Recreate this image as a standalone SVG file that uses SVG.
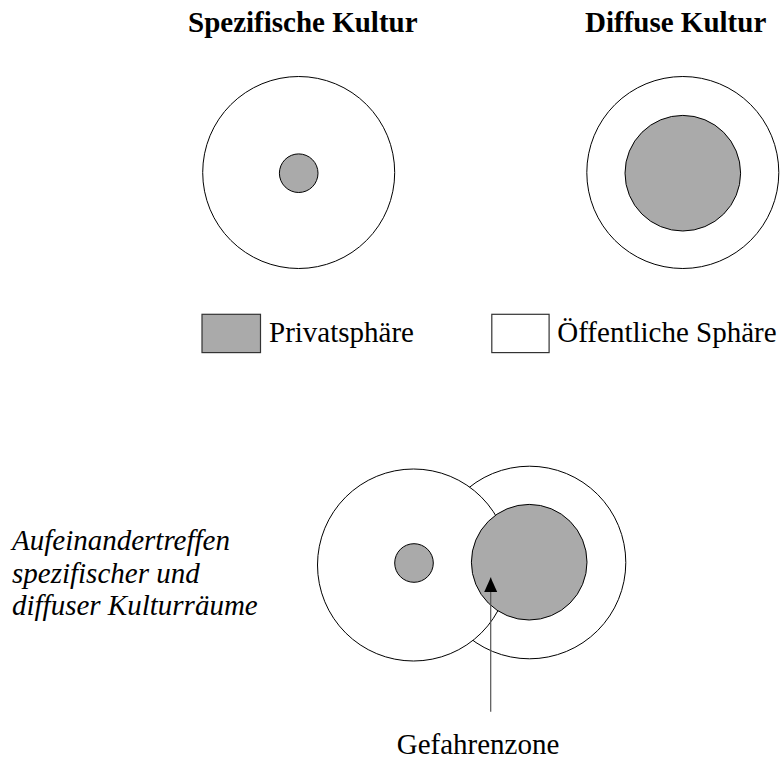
<svg xmlns="http://www.w3.org/2000/svg" width="783" height="760" viewBox="0 0 783 760">
<style>
.t{font-size:29px;fill:#000}
.b{font-weight:bold}
.i{font-style:italic}
.outer{fill:#fff;stroke:#000;stroke-width:1}
.inner{fill:#aaaaaa;stroke:#000;stroke-width:1}
.box{stroke:#333;stroke-width:1.2}
</style>
<defs>
<marker id="ah" markerWidth="15" markerHeight="14" refX="14.5" refY="7" orient="auto" markerUnits="userSpaceOnUse" viewBox="0 0 15 14">
<path d="M0 0.5 L14.5 7 L0 13.5 Z" fill="#000"/>
</marker>
</defs>
<rect width="783" height="760" fill="#fff"/>
<g font-family="Liberation Serif, DejaVu Serif, Times New Roman, serif">

<g id="specific">
<text class="t b" x="188" y="32">Spezifische Kultur</text>
<circle class="outer" cx="298.7" cy="172.5" r="96"/>
<circle class="inner" cx="298.7" cy="173.2" r="19.3"/>
</g>

<g id="diffuse">
<text class="t b" x="585" y="32">Diffuse Kultur</text>
<circle class="outer" cx="682.8" cy="172.5" r="96"/>
<circle class="inner" cx="682.8" cy="173.2" r="57.8"/>
</g>

<g id="legend-private">
<rect class="box" x="202" y="314.3" width="58.5" height="38.3" fill="#aaaaaa"/>
<text class="t" x="269" y="342">Privatsphäre</text>
</g>

<g id="legend-public">
<rect class="box" x="491.8" y="314.3" width="57.3" height="38.3" fill="#fff"/>
<text class="t" x="557.3" y="342">Öffentliche Sphäre</text>
</g>

<g id="encounter">
<circle class="outer" cx="529.5" cy="562.5" r="96.3"/>
<circle class="outer" cx="413.5" cy="565" r="96"/>
<circle class="inner" cx="414" cy="563" r="19.3"/>
<circle class="inner" cx="529.2" cy="562.2" r="57.8"/>
</g>

<g id="caption">
<text class="t i" x="12" y="550">Aufeinandertreffen</text>
<text class="t i" x="12" y="583">spezifischer und</text>
<text class="t i" x="12" y="615">diffuser Kulturräume</text>
</g>

<g id="danger-label">
<text class="t" x="396.7" y="754">Gefahrenzone</text>
</g>
</g>

<g id="connectors">
<line x1="490.7" y1="711.7" x2="490.7" y2="577.5" stroke="#555" stroke-width="1.2" marker-end="url(#ah)"/>
</g>
</svg>
